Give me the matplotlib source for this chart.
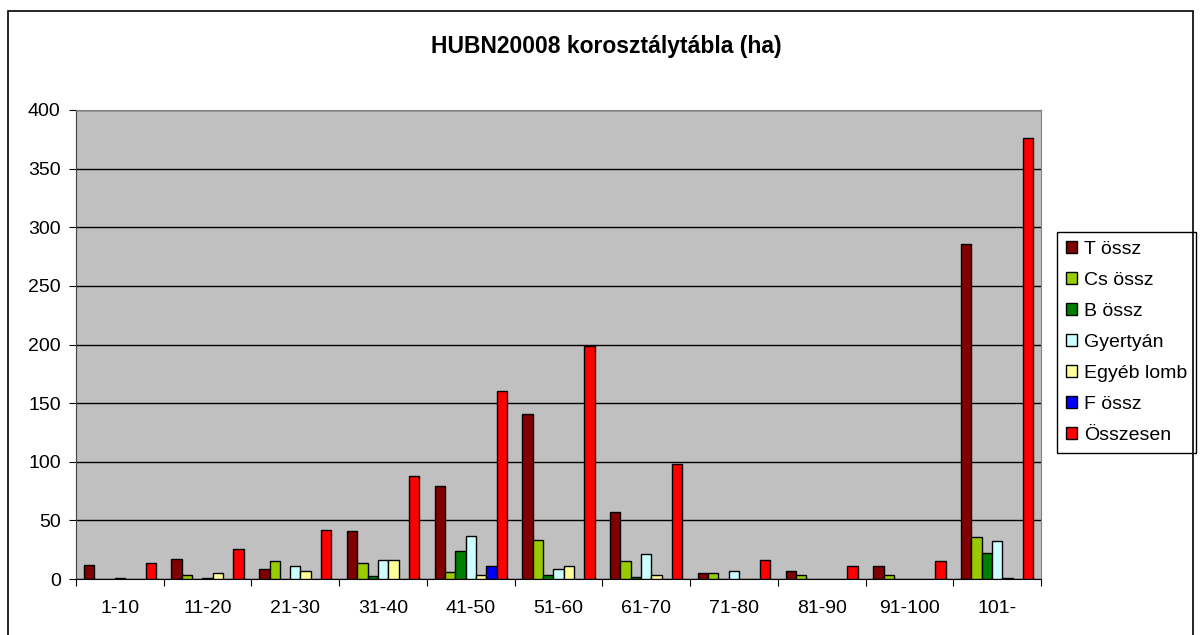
import matplotlib
matplotlib.use('Agg')
import matplotlib.pyplot as plt
from matplotlib.patches import Rectangle
import numpy as np

plt.rcParams['font.family'] = ['Liberation Sans', 'DejaVu Sans']

categories = ['1-10', '11-20', '21-30', '31-40', '41-50', '51-60',
              '61-70', '71-80', '81-90', '91-100', '101-']
series_names = ['T össz', 'Cs össz', 'B össz', 'Gyertyán', 'Egyéb lomb',
                'F össz', 'Összesen']
t_ossz = [12, 17, 8.5, 41, 79, 141, 57, 5, 6.5, 11, 286]
cs_ossz = [0, 3.5, 15, 13.5, 6, 33, 15, 5, 3.5, 3.5, 35.5]
b_ossz = [0, 0, 0, 2.5, 23.5, 3.5, 1.5, 0, 0, 0, 22.5]
gyertyan = [1, 1, 11, 16, 37, 8.5, 21, 6.5, 0, 0, 32]
egyeb_lomb = [0, 5, 6.5, 16, 3.5, 11, 3.5, 0, 0, 0, 1]
f_ossz = [0, 0, 0, 0, 11, 0, 0, 0, 0, 0, 0]
osszesen = [14, 26, 42, 88, 160, 199, 98, 16, 11, 15, 376]

values = [t_ossz, cs_ossz, b_ossz, gyertyan, egyeb_lomb, f_ossz, osszesen]
colors = ['#800000', '#99CC00', '#008000', '#CCFFFF', '#FFFF99',
          '#0000FF', '#FF0000']

fig = plt.figure(figsize=(12, 6.35), dpi=100)
fig.patch.set_facecolor('white')
fig.patches.append(Rectangle((8 / 1200, -0.02), 1185 / 1200, 1.02 - 11 / 635,
                             transform=fig.transFigure, fill=False,
                             edgecolor='black', lw=1.2))

ax = fig.add_axes([76 / 1200, 56 / 635, 965 / 1200, 469 / 635])
ax.set_facecolor('#C0C0C0')

x = np.arange(len(categories))
w = 1 / 8.5
for i, (name, vals, col) in enumerate(zip(series_names, values, colors)):
    vals = np.array(vals, dtype=float)
    idx = np.nonzero(vals)[0]
    ax.bar(x[idx] + (i - 3) * w, vals[idx], width=w, color=col,
           edgecolor='black', lw=1.0, label=name, zorder=3)

ax.set_xlim(-0.5, len(categories) - 0.5)
ax.set_ylim(0, 400)
ax.set_yticks(np.arange(0, 401, 50))
ax.yaxis.grid(True, color='black', lw=1.0, zorder=1)
ax.set_axisbelow(True)

ax.set_xticks(np.arange(-0.5, len(categories), 1))
ax.set_xticklabels([])
ax.set_xticks(x, minor=True)
ax.set_xticklabels(categories, minor=True)
ax.tick_params(axis='x', which='major', length=5, direction='out', color='black')
ax.tick_params(axis='x', which='minor', length=0, pad=15, labelsize=14)
ax.tick_params(axis='y', length=5, direction='out', labelsize=14, pad=6)

for side in ['top', 'right']:
    ax.spines[side].set_color('#808080')
ax.spines['left'].set_color('#404040')
ax.spines['bottom'].set_color('black')

fig.text(606 / 1200, 1 - 47 / 635, 'HUBN20008 korosztálytábla (ha)',
         ha='center', va='center', fontsize=16.5, fontweight='bold')

leg = ax.legend(loc='upper left', bbox_to_anchor=(1057 / 1200, 1 - 232 / 635),
                bbox_transform=fig.transFigure, fontsize=14, frameon=True,
                fancybox=False, edgecolor='black', framealpha=1,
                handlelength=0.6, handleheight=0.6, handletextpad=0.35,
                labelspacing=0.72, borderpad=0.45, borderaxespad=0)
leg.get_frame().set_linewidth(1.0)

plt.savefig('out.png', dpi=100, facecolor='white')
